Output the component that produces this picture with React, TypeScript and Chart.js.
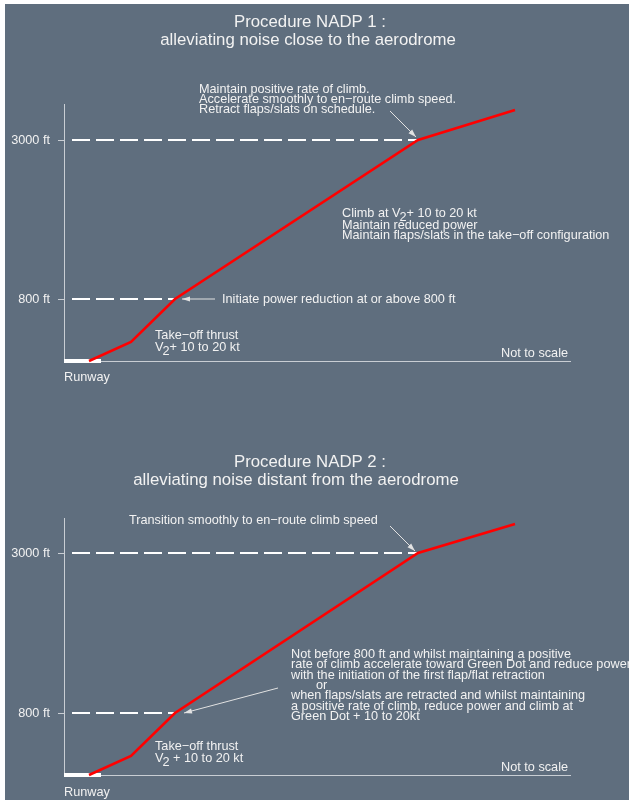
import React, { useEffect, useRef } from "react";
import { Chart, registerables } from "chart.js";

Chart.register(...registerables);

// ---------------- data ----------------
// altitude tick labels (diagram is "not to scale")
const ALT_TICK_LABELS = ["800 ft", "3000 ft"];
const NADP1_ALT_TICKS = [62, 221];
const NADP2_ALT_TICKS = [62, 222];

// flight path (distance units, height units)
const NADP1_PATH_X = [25, 67, 111, 354, 451];
const NADP1_PATH_Y = [0, 19, 62, 221, 251];
const NADP2_PATH_X = [25, 67, 111, 354, 451];
const NADP2_PATH_Y = [0, 19, 62, 222, 251];

const RUNWAY_X = [0, 37];
const DASH_START_X = 8;
const DIST_MAX = 506;
const HEIGHT_MAX = 257;

// ---------------- styles ----------------
const BG = "#5f6e7e";
const AXIS_COLOR = "#c9ced4";
const TEXT_COLOR = "#f2f2f2";
const ARROW_COLOR = "#e2e2e2";
const FONT_FAMILY = '"Liberation Sans", Arial, Helvetica, sans-serif';
const NOTE_FONT = 12.7;
const TITLE_FONT = 16.8;

type Seg = string | { sub: string };
type Note = { x: number; y: number; segs: Seg[]; align?: "left" | "right" };
type Arrow = { x1: number; y1: number; x2: number; y2: number };
type TitleLine = { text: string; cx: number; cy: number };

const NADP1_TITLES: TitleLine[] = [
  { text: "Procedure NADP 1 :", cx: 305, cy: 18 },
  { text: "alleviating noise close to the aerodrome", cx: 303, cy: 36 },
];
const NADP2_TITLES: TitleLine[] = [
  { text: "Procedure NADP 2 :", cx: 305, cy: 48 },
  { text: "alleviating noise distant from the aerodrome", cx: 291, cy: 66 },
];

const NADP1_NOTES: Note[] = [
  { x: 135, y: 272, segs: ["Maintain positive rate of climb."] },
  { x: 135, y: 262, segs: ["Accelerate smoothly to en\u2212route climb speed."] },
  { x: 135, y: 252, segs: ["Retract flaps/slats on schedule."] },
  { x: 278, y: 148, segs: ["Climb at V", { sub: "2" }, "+ 10 to 20 kt"] },
  { x: 278, y: 136, segs: ["Maintain reduced power"] },
  { x: 278, y: 126, segs: ["Maintain flaps/slats in the take\u2212off configuration"] },
  { x: 158, y: 62, segs: ["Initiate power reduction at or above 800 ft"] },
  { x: 91, y: 26, segs: ["Take\u2212off thrust"] },
  { x: 91, y: 14, segs: ["V", { sub: "2" }, "+ 10 to 20 kt"] },
  { x: 504, y: 8, segs: ["Not to scale"], align: "right" },
  { x: 0, y: -16, segs: ["Runway"] },
];
const NADP1_ARROWS: Arrow[] = [
  { x1: 326, y1: 250, x2: 352, y2: 224 },
  { x1: 151, y1: 62, x2: 118, y2: 62 },
];

const NADP2_NOTES: Note[] = [
  { x: 65, y: 255, segs: ["Transition smoothly to en\u2212route climb speed"] },
  { x: 227, y: 121, segs: ["Not before 800 ft and whilst maintaining a positive"] },
  { x: 227, y: 110.5, segs: ["rate of climb accelerate toward Green Dot and reduce power"] },
  { x: 227, y: 100, segs: ["with the initiation of the first flap/flat retraction"] },
  { x: 252, y: 90, segs: ["or"] },
  { x: 227, y: 79.5, segs: ["when flaps/slats are retracted and whilst maintaining"] },
  { x: 227, y: 69, segs: ["a positive rate of climb, reduce power and climb at"] },
  { x: 227, y: 59, segs: ["Green Dot + 10 to 20kt"] },
  { x: 91, y: 29, segs: ["Take\u2212off thrust"] },
  { x: 91, y: 17, segs: ["V", { sub: "2" }, " + 10 to 20 kt"] },
  { x: 504, y: 8, segs: ["Not to scale"], align: "right" },
  { x: 0, y: -17, segs: ["Runway"] },
];
const NADP2_ARROWS: Arrow[] = [
  { x1: 326, y1: 249, x2: 351, y2: 224 },
  { x1: 214, y1: 87, x2: 120, y2: 62 },
];

// ---------------- drawing helpers ----------------
function segsWidth(ctx: CanvasRenderingContext2D, segs: Seg[]) {
  let w = 0;
  for (const s of segs) {
    if (typeof s === "string") w += ctx.measureText(s).width;
    else w += ctx.measureText(s.sub).width - 1;
  }
  return w;
}

function drawSegs(ctx: CanvasRenderingContext2D, segs: Seg[], x: number, y: number, align: "left" | "right") {
  let cx = align === "right" ? x - segsWidth(ctx, segs) : x;
  ctx.textAlign = "left";
  for (const s of segs) {
    if (typeof s === "string") {
      ctx.fillText(s, cx, y);
      cx += ctx.measureText(s).width;
    } else {
      cx -= 1;
      ctx.fillText(s.sub, cx, y + 4);
      cx += ctx.measureText(s.sub).width;
    }
  }
}

function drawArrow(ctx: CanvasRenderingContext2D, x1: number, y1: number, x2: number, y2: number) {
  ctx.beginPath();
  ctx.moveTo(x1, y1);
  ctx.lineTo(x2, y2);
  ctx.stroke();
  const a = Math.atan2(y2 - y1, x2 - x1);
  const L = 8;
  const W = 2.6;
  ctx.beginPath();
  ctx.moveTo(x2, y2);
  ctx.lineTo(x2 - L * Math.cos(a) + W * Math.sin(a), y2 - L * Math.sin(a) - W * Math.cos(a));
  ctx.lineTo(x2 - L * Math.cos(a) - W * Math.sin(a), y2 - L * Math.sin(a) + W * Math.cos(a));
  ctx.closePath();
  ctx.fill();
}

const notesPlugin = {
  id: "nadpNotes",
  afterDatasetsDraw(chart: any, _args: any, opts: any) {
    const ctx: CanvasRenderingContext2D = chart.ctx;
    const xs = chart.scales.x;
    const ys = chart.scales.y;
    ctx.save();
    ctx.fillStyle = TEXT_COLOR;
    ctx.textBaseline = "middle";
    ctx.font = `${TITLE_FONT}px ${FONT_FAMILY}`;
    ctx.textAlign = "center";
    for (const t of opts.titles as TitleLine[]) ctx.fillText(t.text, t.cx, t.cy);
    ctx.font = `${NOTE_FONT}px ${FONT_FAMILY}`;
    for (const n of opts.notes as Note[]) {
      drawSegs(ctx, n.segs, xs.getPixelForValue(n.x), ys.getPixelForValue(n.y), n.align || "left");
    }
    ctx.strokeStyle = ARROW_COLOR;
    ctx.fillStyle = ARROW_COLOR;
    ctx.lineWidth = 1;
    for (const a of opts.arrows as Arrow[]) {
      drawArrow(
        ctx,
        xs.getPixelForValue(a.x1),
        ys.getPixelForValue(a.y1),
        xs.getPixelForValue(a.x2),
        ys.getPixelForValue(a.y2)
      );
    }
    ctx.restore();
  },
};

type Props = {
  height: number;
  padTop: number;
  xAxisHeight: number;
  pathX: number[];
  pathY: number[];
  altTicks: number[];
  titles: TitleLine[];
  notes: Note[];
  arrows: Arrow[];
};

function NadpChart(p: Props) {
  const ref = useRef<HTMLCanvasElement | null>(null);
  useEffect(() => {
    if (!ref.current) return;
    const path = p.pathX.map((x, i) => ({ x, y: p.pathY[i] }));
    const dash = (level: number, knee: number) => [
      { x: DASH_START_X, y: level },
      { x: p.pathX[knee], y: level },
    ];
    const chart = new Chart(ref.current, {
      type: "scatter",
      data: {
        datasets: [
          {
            data: path,
            showLine: true,
            borderColor: "#ff0000",
            borderWidth: 2.6,
            pointRadius: 0,
            clip: false as any,
            order: 0,
          },
          {
            data: dash(p.altTicks[0], 2),
            showLine: true,
            borderColor: "#ffffff",
            borderWidth: 2,
            borderDash: [18, 6],
            pointRadius: 0,
            order: 1,
          },
          {
            data: dash(p.altTicks[1], 3),
            showLine: true,
            borderColor: "#ffffff",
            borderWidth: 2,
            borderDash: [18, 6],
            pointRadius: 0,
            order: 1,
          },
          {
            data: RUNWAY_X.map((x) => ({ x, y: 0 })),
            showLine: true,
            borderColor: "#ffffff",
            borderWidth: 4,
            borderCapStyle: "butt",
            pointRadius: 0,
            clip: false as any,
            order: 2,
          },
        ],
      },
      options: {
        responsive: false,
        animation: false,
        events: [],
        layout: { padding: { top: p.padTop, left: 0, right: 59, bottom: 0 } },
        plugins: {
          legend: { display: false },
          tooltip: { enabled: false },
          title: { display: false },
          nadpNotes: { titles: p.titles, notes: p.notes, arrows: p.arrows },
        } as any,
        scales: {
          x: {
            type: "linear",
            min: 0,
            max: DIST_MAX,
            ticks: { display: false },
            grid: { display: false },
            border: { display: true, color: AXIS_COLOR, width: 1 },
            afterFit: (s: any) => {
              s.height = p.xAxisHeight;
            },
          },
          y: {
            type: "linear",
            min: 0,
            max: HEIGHT_MAX,
            afterBuildTicks: (s: any) => {
              s.ticks = p.altTicks.map((v) => ({ value: v }));
            },
            ticks: {
              autoSkip: false,
              padding: 8,
              color: TEXT_COLOR,
              font: { family: FONT_FAMILY, size: NOTE_FONT },
              callback: (_v: any, i: number) => ALT_TICK_LABELS[i],
            },
            grid: {
              drawOnChartArea: false,
              drawTicks: true,
              tickLength: 6,
              color: AXIS_COLOR,
              lineWidth: 1,
            },
            border: { display: true, color: AXIS_COLOR, width: 1 },
            afterFit: (s: any) => {
              s.width = 59;
            },
          },
        },
      },
      plugins: [notesPlugin as any],
    });
    return () => chart.destroy();
  }, []);
  return (
    <canvas
      ref={ref}
      width={624}
      height={p.height}
      style={{ display: "block", width: 624, height: p.height }}
    />
  );
}

export default function App() {
  return (
    <div
      style={{
        position: "absolute",
        left: 5,
        top: 4,
        width: 624,
        height: 796,
        background: BG,
        overflow: "hidden",
      }}
    >
      <NadpChart
        height={410}
        padTop={100}
        xAxisHeight={53}
        pathX={NADP1_PATH_X}
        pathY={NADP1_PATH_Y}
        altTicks={NADP1_ALT_TICKS}
        titles={NADP1_TITLES}
        notes={NADP1_NOTES}
        arrows={NADP1_ARROWS}
      />
      <NadpChart
        height={386}
        padTop={104}
        xAxisHeight={25}
        pathX={NADP2_PATH_X}
        pathY={NADP2_PATH_Y}
        altTicks={NADP2_ALT_TICKS}
        titles={NADP2_TITLES}
        notes={NADP2_NOTES}
        arrows={NADP2_ARROWS}
      />
    </div>
  );
}
